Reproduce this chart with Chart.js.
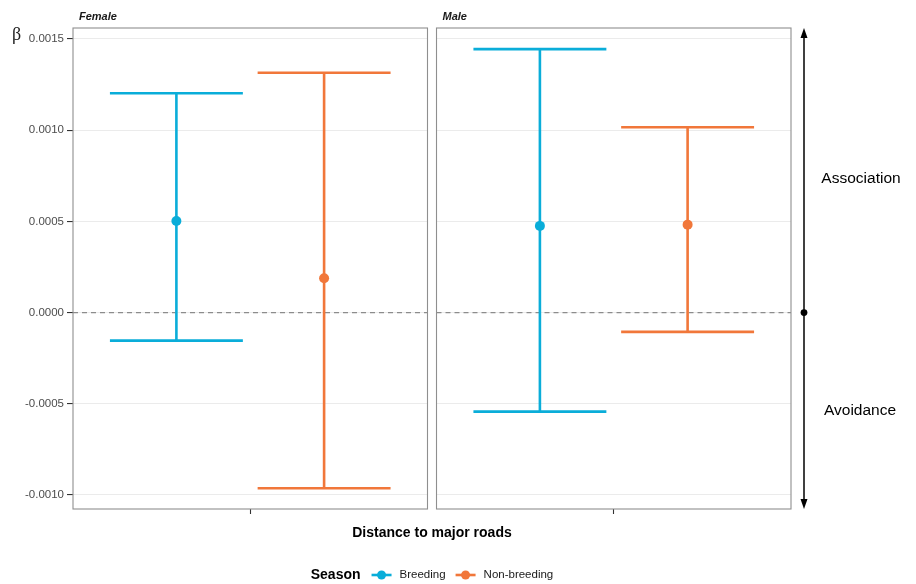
<!DOCTYPE html>
<html>
  <head>
    <title>Distance to major roads</title>
    <script src="https://cdn.jsdelivr.net/npm/chart.js"></script>
    <style>
      html,
      body {
        margin: 0;
        padding: 0;
        background: #fff;
      }
      canvas {
        display: block;
      }
    </style>
  </head>
  <body>
    <canvas id="chart" width="916" height="584"></canvas>

    <script>
      // Data
      const sexes = ["Female", "Male"];
      const seasons = ["Breeding", "Non-breeding"];
      const breedingEst = [0.000502, 0.000475];
      const breedingLow = [-0.000154, -0.000543];
      const breedingHigh = [0.001202, 0.001444];
      const nonBreedingEst = [0.000188, 0.000482];
      const nonBreedingLow = [-0.000963, -0.000106];
      const nonBreedingHigh = [0.001315, 0.001016];
      const yTicks = [-0.001, -0.0005, 0, 0.0005, 0.001, 0.0015];
      const sideLabels = ["Association", "Avoidance"];
      const xTitle = "Distance to major roads";
      const legendTitle = "Season";
      const yTitle = "\u03B2";

      const colors = ["#0AADD9", "#F1773A"];
      const FONT = "'Liberation Sans', Arial, sans-serif";

      // facet layout in x units: each panel is one discrete slot (0.6 expansion each side)
      const PANEL_W = 1.2;
      const GAP = 0.0305;
      const DODGE = 0.25;
      const CAP = 0.225;
      const X_MIN = 0.4;
      const X_MAX = X_MIN + sexes.length * PANEL_W + (sexes.length - 1) * GAP;

      function panelCenter(i) {
        return 1 + i * (PANEL_W + GAP);
      }

      // error bar as segments split by null points
      function barData(low, high, dodge) {
        let pts = [];
        sexes.forEach((s, i) => {
          const x = panelCenter(i) + dodge;
          pts.push({ x: x, y: low[i] }, { x: x, y: high[i] }, { x: x, y: null });
          pts.push({ x: x - CAP, y: high[i] }, { x: x + CAP, y: high[i] }, { x: x, y: null });
          pts.push({ x: x - CAP, y: low[i] }, { x: x + CAP, y: low[i] }, { x: x, y: null });
        });
        return pts;
      }

      function pointData(est, dodge) {
        return sexes.map((s, i) => ({ x: panelCenter(i) + dodge, y: est[i] }));
      }

      const series = [
        { name: seasons[0], est: breedingEst, low: breedingLow, high: breedingHigh, dodge: -DODGE },
        { name: seasons[1], est: nonBreedingEst, low: nonBreedingLow, high: nonBreedingHigh, dodge: DODGE },
      ];

      let datasets = [];
      series.forEach((s, k) => {
        datasets.push({
          label: s.name + " interval",
          data: barData(s.low, s.high, s.dodge),
          showLine: true,
          spanGaps: false,
          borderColor: colors[k],
          borderWidth: 2.6,
          borderCapStyle: "butt",
          pointRadius: 0,
          order: 2,
        });
        datasets.push({
          label: s.name,
          data: pointData(s.est, s.dodge),
          backgroundColor: colors[k],
          borderColor: colors[k],
          pointRadius: 5,
          borderWidth: 0,
          order: 1,
        });
      });

      // panel borders, zero line, strips, legend and side annotation
      const facetDecor = {
        id: "facetDecor",
        beforeDatasetsDraw(chart) {
          const ctx = chart.ctx;
          const area = chart.chartArea;
          const xs = chart.scales.x;
          const ys = chart.scales.y;
          const y0 = ys.getPixelForValue(0);
          ctx.save();
          // blank the gap between panels
          for (let i = 0; i < sexes.length - 1; i++) {
            const gx1 = xs.getPixelForValue(panelCenter(i) + PANEL_W / 2);
            const gx2 = xs.getPixelForValue(panelCenter(i + 1) - PANEL_W / 2);
            ctx.fillStyle = "#fff";
            ctx.fillRect(gx1, area.top - 1, gx2 - gx1, area.bottom - area.top + 2);
          }
          // dashed zero line in each panel
          ctx.strokeStyle = "#8c8c8c";
          ctx.lineWidth = 1.2;
          ctx.setLineDash([5, 4]);
          sexes.forEach((s, i) => {
            const l = xs.getPixelForValue(panelCenter(i) - PANEL_W / 2);
            const r = xs.getPixelForValue(panelCenter(i) + PANEL_W / 2);
            ctx.beginPath();
            ctx.moveTo(l, y0);
            ctx.lineTo(r, y0);
            ctx.stroke();
          });
          ctx.restore();
        },
        afterDatasetsDraw(chart) {
          const ctx = chart.ctx;
          const area = chart.chartArea;
          const xs = chart.scales.x;
          ctx.save();
          ctx.strokeStyle = "#8f8f8f";
          ctx.lineWidth = 1.1;
          sexes.forEach((s, i) => {
            const l = xs.getPixelForValue(panelCenter(i) - PANEL_W / 2);
            const r = xs.getPixelForValue(panelCenter(i) + PANEL_W / 2);
            ctx.strokeRect(l, area.top, r - l, area.bottom - area.top);
            // strip label
            ctx.fillStyle = "#1a1a1a";
            ctx.font = "italic bold 11px " + FONT;
            ctx.textAlign = "left";
            ctx.textBaseline = "middle";
            ctx.fillText(s, l + 6, area.top - 11);
          });
          ctx.restore();
        },
        afterDraw(chart) {
          const ctx = chart.ctx;
          const area = chart.chartArea;
          const ys = chart.scales.y;
          const cx = (area.left + area.right) / 2;
          ctx.save();

          // beta label
          ctx.fillStyle = "#222";
          ctx.font = "18px 'Liberation Serif', serif";
          ctx.textAlign = "left";
          ctx.textBaseline = "middle";
          ctx.fillText(yTitle, 12, 35);

          // x title
          ctx.fillStyle = "#000";
          ctx.font = "bold 14px " + FONT;
          ctx.textAlign = "center";
          ctx.fillText(xTitle, cx, 533);

          // legend
          const ly = 575;
          ctx.font = "bold 14px " + FONT;
          const tw = ctx.measureText(legendTitle).width;
          ctx.font = "11.5px " + FONT;
          const lw = seasons.map((s) => ctx.measureText(s).width);
          const glyph = 20;
          const total = tw + 11 + lw.reduce((a, b) => a + b, 0) + seasons.length * (glyph + 8) + 10 * (seasons.length - 1);
          let x = cx - total / 2;
          ctx.textAlign = "left";
          ctx.font = "bold 14px " + FONT;
          ctx.fillStyle = "#000";
          ctx.fillText(legendTitle, x, ly);
          x += tw + 11;
          seasons.forEach((s, k) => {
            ctx.strokeStyle = colors[k];
            ctx.lineWidth = 2.6;
            ctx.beginPath();
            ctx.moveTo(x, ly);
            ctx.lineTo(x + glyph, ly);
            ctx.stroke();
            ctx.fillStyle = colors[k];
            ctx.beginPath();
            ctx.arc(x + glyph / 2, ly, 4.5, 0, Math.PI * 2);
            ctx.fill();
            x += glyph + 8;
            ctx.fillStyle = "#1a1a1a";
            ctx.font = "11.5px " + FONT;
            ctx.fillText(s, x, ly);
            x += lw[k] + 10;
          });

          // side arrow: association above zero, avoidance below
          const ax = 804;
          const top = area.top;
          const bot = area.bottom;
          const y0 = ys.getPixelForValue(0);
          ctx.strokeStyle = "#000";
          ctx.fillStyle = "#000";
          ctx.lineWidth = 1.5;
          ctx.beginPath();
          ctx.moveTo(ax, top + 4);
          ctx.lineTo(ax, bot - 4);
          ctx.stroke();
          ctx.beginPath();
          ctx.moveTo(ax, top);
          ctx.lineTo(ax - 3.5, top + 10);
          ctx.lineTo(ax + 3.5, top + 10);
          ctx.closePath();
          ctx.fill();
          ctx.beginPath();
          ctx.moveTo(ax, bot);
          ctx.lineTo(ax - 3.5, bot - 10);
          ctx.lineTo(ax + 3.5, bot - 10);
          ctx.closePath();
          ctx.fill();
          ctx.beginPath();
          ctx.arc(ax, y0, 3.4, 0, Math.PI * 2);
          ctx.fill();

          ctx.font = "15.5px " + FONT;
          ctx.textAlign = "center";
          ctx.fillText(sideLabels[0], 861, 179);
          ctx.fillText(sideLabels[1], 860, 411);
          ctx.restore();
        },
      };

      new Chart(document.getElementById("chart").getContext("2d"), {
        type: "scatter",
        data: { datasets: datasets },
        options: {
          responsive: false,
          animation: false,
          devicePixelRatio: 1,
          layout: { padding: { top: 28, right: 125, bottom: 70, left: 0 } },
          plugins: {
            legend: { display: false },
            tooltip: { enabled: false },
          },
          scales: {
            x: {
              type: "linear",
              min: X_MIN,
              max: X_MAX,
              afterBuildTicks: (scale) => {
                scale.ticks = sexes.map((s, i) => ({ value: panelCenter(i) }));
              },
              afterFit: (scale) => {
                scale.height = 5;
              },
              ticks: {
                autoSkip: false,
                callback: () => "",
              },
              grid: {
                drawOnChartArea: false,
                tickLength: 5,
                tickColor: "#333",
                tickWidth: 1.1,
              },
              border: { display: false },
            },
            y: {
              min: -0.001077,
              max: 0.00156,
              afterBuildTicks: (scale) => {
                scale.ticks = yTicks.map((v) => ({ value: v }));
              },
              afterFit: (scale) => {
                scale.width = 73;
              },
              ticks: {
                padding: 3,
                color: "#4d4d4d",
                font: { family: FONT, size: 11.5 },
                callback: (v) => Number(v).toFixed(4),
              },
              grid: {
                color: "#ebebeb",
                lineWidth: 1.1,
                tickLength: 6,
                tickColor: "#333",
                tickWidth: 1.1,
              },
              border: { display: false },
            },
          },
        },
        plugins: [facetDecor],
      });
    </script>
  </body>
</html>
